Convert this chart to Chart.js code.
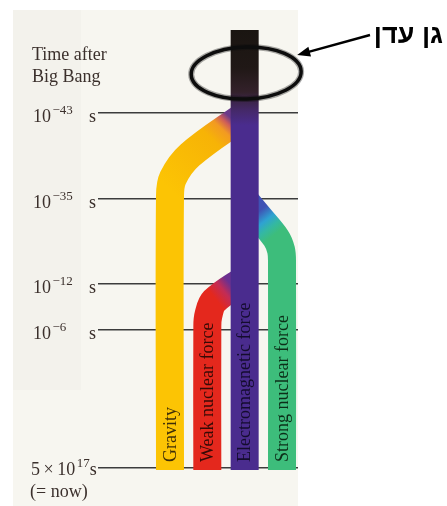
<!DOCTYPE html>
<html>
<head>
<meta charset="utf-8">
<script src="https://cdn.jsdelivr.net/npm/chart.js@4.4.1/dist/chart.umd.min.js"></script>
<style>
  html, body { margin: 0; padding: 0; background: #fff; }
  canvas { display: block; }
</style>
</head>
<body>
<canvas id="forces" width="447" height="506"></canvas>
<script>
// the four forces, in lane order from left to right
const forces = ['Gravity', 'Weak nuclear force', 'Electromagnetic force', 'Strong nuclear force'];
const forceColors = ['#fcc404', '#e4281d', '#4a2c8e', '#3dbd7b'];
const inkColors = ['#3e2e08', '#360a06', '#140c2e', '#0c2e18'];

// time marks down the side and how far down the diagram each one sits
const timeBase = ['10', '10', '10', '10', '5\u2009\u00d7\u200910'];
const timeExp = ['\u221243', '\u221235', '\u221212', '\u22126', '17'];
const timeDepth = [8.3, 16.9, 25.4, 30.0, 43.8];

// where each force runs: [lane, depth]
const gravityPath = [[2, 8.5], [0.535, 12.5], [0.08, 14.8], [0, 16.6], [0, 44]];
const weakPath = [[2, 24.9], [1.18, 27.1], [1.03, 28.5], [1, 29.6], [1, 44]];
const strongPath = [[2, 17.0], [2.38, 18.7], [2.84, 20.8], [2.975, 22.0], [3, 23.2], [3, 44]];
const emPath = [[2, 0], [2, 44]];

const paths = [gravityPath, weakPath, emPath, strongPath];

function toPoints(path) {
  return path.map(p => ({ x: p[0], y: p[1] }));
}

// gradient along a stretch of the diagram, in data units
function along(chart, from, to, stops, fallback) {
  if (!chart.chartArea) return fallback;
  const sx = chart.scales.x, sy = chart.scales.y;
  const x0 = sx.getPixelForValue(from[0]), y0 = sy.getPixelForValue(from[1]);
  const x1 = sx.getPixelForValue(to[0]), y1 = sy.getPixelForValue(to[1]);
  if (![x0, y0, x1, y1].every(Number.isFinite)) return fallback;
  const g = chart.ctx.createLinearGradient(x0, y0, x1, y1);
  stops.forEach(s => g.addColorStop(s[0], s[1]));
  return g;
}

const bandColor = [
  c => along(c.chart, [1.72, 9.1], [0, 16.0],
    [[0, '#6a3a8a'], [0.07, '#cf5e58'], [0.15, '#f29a22'], [0.3, '#f7b306'], [1, forceColors[0]]], forceColors[0]),
  c => along(c.chart, [1.66, 25.6], [1.22, 26.9],
    [[0, '#6a3090'], [0.45, '#c22c56'], [1, forceColors[1]]], forceColors[1]),
  c => along(c.chart, [2, 0], [2, 9.5],
    [[0, '#1a1511'], [0.4, '#201816'], [0.65, '#33212a'], [0.85, '#45296a'], [1, forceColors[2]]], forceColors[2]),
  c => along(c.chart, [2.36, 18.2], [2.82, 20.4],
    [[0, '#3f52b4'], [0.4, '#2ea2d2'], [0.7, '#34b8a2'], [1, forceColors[3]]], forceColors[3])
];

const decor = {
  id: 'decor',
  beforeDraw(chart) {
    const ctx = chart.ctx;
    ctx.save();
    ctx.fillStyle = '#ffffff';
    ctx.fillRect(0, 0, chart.width, chart.height);
    ctx.fillStyle = '#f7f6f0';
    ctx.fillRect(13, 10, 285, chart.height - 10);
    ctx.fillStyle = '#f3f2ec';
    ctx.fillRect(13, 10, 68, 380);
    ctx.restore();
  },
  afterDraw(chart) {
    const ctx = chart.ctx;
    const sx = chart.scales.x, sy = chart.scales.y;
    ctx.save();

    // labels inside the bands
    ctx.font = '18px "Liberation Serif"';
    ctx.textAlign = 'left';
    ctx.textBaseline = 'middle';
    forces.forEach((name, i) => {
      ctx.save();
      ctx.fillStyle = inkColors[i];
      ctx.translate(sx.getPixelForValue(i) + 1, sy.getPixelForValue(43.2));
      ctx.rotate(-Math.PI / 2);
      ctx.fillText(name, 0, 0);
      ctx.restore();
    });

    // axis heading and time marks
    ctx.fillStyle = '#3b302c';
    ctx.textBaseline = 'alphabetic';
    ctx.font = '18px "Liberation Serif"';
    ctx.fillText('Time after', 32, 60);
    ctx.fillText('Big Bang', 32, 82);
    timeBase.forEach((base, i) => {
      const py = sy.getPixelForValue(timeDepth[i]);
      const last = i === timeBase.length - 1;
      const by = py + (last ? 7 : 9);
      const bx = last ? 31 : 33;
      ctx.font = '18px "Liberation Serif"';
      ctx.textAlign = 'left';
      ctx.fillText(base, bx, by);
      const bw = ctx.measureText(base).width;
      ctx.font = '13px "Liberation Serif"';
      const ex = bx + bw + 1.5;
      ctx.fillText(timeExp[i], ex, by - 8);
      const ew = ctx.measureText(timeExp[i]).width;
      ctx.font = '18px "Liberation Serif"';
      if (last) {
        ctx.fillText('s', ex + ew, by);
      } else {
        ctx.textAlign = 'right';
        ctx.fillText('s', 96, by);
      }
    });
    ctx.textAlign = 'left';
    ctx.font = '18px "Liberation Serif"';
    ctx.fillText('(= now)', 30, sy.getPixelForValue(43.8) + 29);

    // circled beginning, soft marker edge
    const cx = sx.getPixelForValue(2) + 1.5, cy = sy.getPixelForValue(4.3);
    ctx.strokeStyle = '#0d0d0d';
    ctx.globalAlpha = 0.35;
    ctx.lineWidth = 6;
    ctx.beginPath();
    ctx.ellipse(cx, cy, 55, 26, -0.03, 0, Math.PI * 2);
    ctx.stroke();
    ctx.globalAlpha = 1;
    ctx.lineWidth = 3.5;
    ctx.beginPath();
    ctx.ellipse(cx, cy, 55, 26, -0.03, 0, Math.PI * 2);
    ctx.stroke();

    // arrow and note
    const tipX = cx + 51, tipY = cy - 18;
    const tailX = 370, tailY = 35;
    const ang = Math.atan2(tipY - tailY, tipX - tailX);
    ctx.strokeStyle = '#000';
    ctx.lineWidth = 2.5;
    ctx.beginPath();
    ctx.moveTo(tailX, tailY);
    ctx.lineTo(tipX - 10 * Math.cos(ang), tipY - 10 * Math.sin(ang));
    ctx.stroke();
    ctx.fillStyle = '#000';
    ctx.beginPath();
    ctx.moveTo(tipX, tipY);
    ctx.lineTo(tipX - 13 * Math.cos(ang) + 5 * Math.sin(ang), tipY - 13 * Math.sin(ang) - 5 * Math.cos(ang));
    ctx.lineTo(tipX - 13 * Math.cos(ang) - 5 * Math.sin(ang), tipY - 13 * Math.sin(ang) + 5 * Math.cos(ang));
    ctx.closePath();
    ctx.fill();

    ctx.font = 'bold 27px "Liberation Sans"';
    ctx.direction = 'rtl';
    ctx.textAlign = 'right';
    ctx.fillText('\u05d2\u05df \u05e2\u05d3\u05df', 443, 43);
    ctx.restore();
  }
};

new Chart(document.getElementById('forces'), {
  type: 'scatter',
  data: {
    datasets: paths.map((path, i) => ({
      label: forces[i],
      data: toPoints(path),
      showLine: true,
      borderColor: bandColor[i],
      backgroundColor: forceColors[i],
      borderWidth: 28,
      borderCapStyle: 'butt',
      borderJoinStyle: 'round',
      tension: 0.35,
      pointRadius: 0,
      pointHoverRadius: 0,
      order: i === 2 ? 0 : 1
    }))
  },
  options: {
    responsive: false,
    animation: false,
    events: [],
    layout: { padding: { left: 98, right: 149, top: 30, bottom: 36 } },
    plugins: { legend: { display: false }, tooltip: { enabled: false } },
    scales: {
      x: {
        type: 'linear',
        display: false,
        min: -1.9286,
        max: 3.4286
      },
      y: {
        type: 'linear',
        reverse: true,
        min: 0,
        max: 44,
        afterBuildTicks: s => { s.ticks = timeDepth.map(v => ({ value: v })); },
        afterFit: s => { s.width = 0; },
        ticks: { display: false },
        border: { display: false },
        grid: { color: '#3c3c3c', lineWidth: 1.4, drawTicks: false }
      }
    }
  },
  plugins: [decor]
});
</script>
</body>
</html>
